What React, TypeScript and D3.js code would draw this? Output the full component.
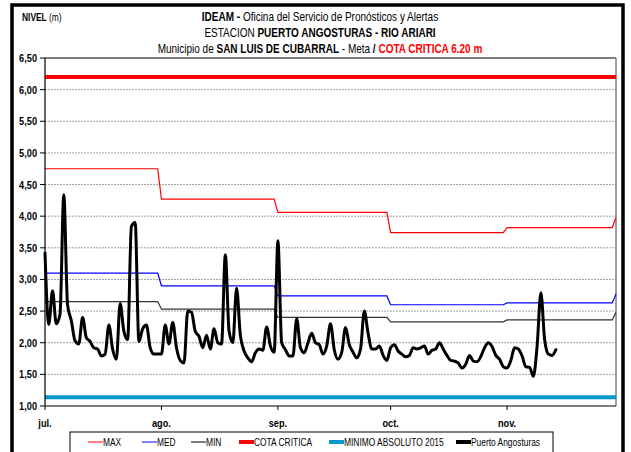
import React from "react";
import * as d3 from "d3";

// ---------- data ----------
const monthLabels = ["jul.", "ago.", "sep.", "oct.", "nov."];
const startDate = "2016-07-01";
const endDate = "2016-11-30";

// monthly reference levels (jul, ago, sep, oct, nov, dic)
const maxValues = [4.75, 4.27, 4.06, 3.74, 3.82, 3.98];
const medValues = [3.1, 2.9, 2.74, 2.6, 2.63, 2.77];
const minValues = [2.65, 2.53, 2.4, 2.33, 2.36, 2.48];
const cotaCritica = 6.2;
const minimoAbsoluto = 1.14;

const yTicks = [1.0, 1.5, 2.0, 2.5, 3.0, 3.5, 4.0, 4.5, 5.0, 5.5, 6.0, 6.5];

// daily level, Puerto Angosturas, from 1 jul.
const angosturas = [
  3.42, 2.29, 2.82, 2.3, 2.45, 4.34, 2.6, 2.35, 2.03, 1.98,
  2.4, 2.08, 2.02, 1.92, 1.9, 1.79, 1.82, 2.28, 1.9, 1.74,
  2.62, 2.18, 2.05, 3.84, 3.9, 2.02, 2.22, 2.28, 1.92, 1.82,
  1.82, 1.82, 2.28, 1.98, 2.32, 1.92, 1.72, 1.68, 2.5, 2.48,
  2.18, 2.1, 1.92, 2.12, 1.9, 2.22, 2.0, 1.98, 3.39, 2.18,
  2.0, 2.86, 2.12, 1.87, 1.76, 1.7, 1.84, 1.9, 1.88, 2.25,
  1.95, 1.85, 3.61, 2.0, 1.89, 1.79, 1.79, 2.38, 1.92, 1.84,
  2.0, 2.15, 2.0, 1.97, 1.82, 1.95, 2.3, 1.89, 1.74, 1.85,
  2.24, 1.97, 1.85, 1.76, 1.9, 2.5, 2.15, 1.9, 1.9, 1.95,
  1.8, 1.72, 1.92, 1.97, 1.87, 1.82, 1.78, 1.8, 1.92, 1.9,
  1.92, 1.95, 1.82, 1.88, 1.9, 2.0, 1.9, 1.8, 1.72, 1.71,
  1.68, 1.6, 1.66, 1.8, 1.71, 1.7, 1.78, 1.92, 2.0, 1.94,
  1.8, 1.74, 1.62, 1.6, 1.72, 1.92, 1.9, 1.79, 1.62, 1.61,
  1.47, 1.95, 2.79, 2.05, 1.82, 1.8, 1.89,
];

// ---------- layout ----------
const W = 631;
const H = 452;
const PL = 45, PR = 616, PT = 58, PB = 406;
const FONT = "'Liberation Sans', Arial, sans-serif";
const SX = 0.8; // horizontal condensing to mimic Arial Narrow

const parse = d3.timeParse("%Y-%m-%d");
const d0 = parse(startDate) as Date;
const d1 = parse(endDate) as Date;

const x = d3.scaleTime().domain([d0, d1]).range([PL, PR]);
const y = d3.scaleLinear().domain([1, 6.5]).range([PB, PT]);

const monthTicks = d3.timeMonth.range(d0, d1).slice(0, monthLabels.length);

function stepSeries(vals: number[]) {
  const days = d3.timeDay.range(d0, d1);
  const pts = days.map((d) => {
    const m = (d.getFullYear() - d0.getFullYear()) * 12 + d.getMonth() - d0.getMonth();
    return { date: d, v: vals[m] };
  });
  pts.push({ date: d1, v: vals[vals.length - 1] });
  return pts;
}

const lineFn = d3
  .line<{ date: Date; v: number }>()
  .x((p) => x(p.date))
  .y((p) => y(p.v));

const dailyPts = angosturas.map((v, i) => ({ date: d3.timeDay.offset(d0, i), v }));
const smoothLine = d3
  .line<{ date: Date; v: number }>()
  .x((p) => x(p.date))
  .y((p) => y(p.v))
  .curve(d3.curveMonotoneX);

const fmt = (v: number) => d3.format(".2f")(v).replace(".", ",");

const legendItems = [
  { label: "MAX", color: "#ff0000", w: 1, x: 88 },
  { label: "MED", color: "#0000ff", w: 1, x: 142 },
  { label: "MIN", color: "#000000", w: 1, x: 191 },
  { label: "COTA CRITICA", color: "#ff0000", w: 4, x: 239 },
  { label: "MINIMO ABSOLUTO 2015", color: "#0099cc", w: 4, x: 329 },
  { label: "Puerto Angosturas", color: "#000000", w: 4, x: 456 },
];

function NText(props: {
  x: number;
  y: number;
  size: number;
  anchor?: "start" | "middle" | "end";
  bold?: boolean;
  fill?: string;
  children: React.ReactNode;
}) {
  return (
    <text
      transform={`translate(${props.x},${props.y}) scale(${SX},1)`}
      fontSize={props.size}
      textAnchor={props.anchor || "start"}
      fontWeight={props.bold ? "bold" : "normal"}
      fill={props.fill || "#000"}
    >
      {props.children}
    </text>
  );
}

export default function App() {
  return (
    <svg
      width={W}
      height={H}
      viewBox={`0 0 ${W} ${H}`}
      style={{ position: "absolute", left: 0, top: 0, background: "#fff" }}
      fontFamily={FONT}
    >
      <rect x={0} y={0} width={W} height={H} fill="#fff" />
      {/* outer frame */}
      <path d={`M12,${H + 5} V5 H623 V${H + 5}`} fill="none" stroke="#000" strokeWidth={3.5} />

      {/* titles */}
      <NText x={22} y={21} size={10.5}>
        <tspan fontWeight="bold">NIVEL</tspan>
        <tspan> (m)</tspan>
      </NText>
      <NText x={320} y={21} size={12.5} anchor="middle">
        <tspan fontWeight="bold">IDEAM - </tspan>
        <tspan>Oficina del Servicio de Pronósticos y Alertas</tspan>
      </NText>
      <NText x={320} y={37} size={12.5} anchor="middle">
        <tspan>ESTACION </tspan>
        <tspan fontWeight="bold">PUERTO ANGOSTURAS - RIO ARIARI</tspan>
      </NText>
      <NText x={320} y={53} size={12.5} anchor="middle">
        <tspan>Municipio de </tspan>
        <tspan fontWeight="bold">SAN LUIS DE CUBARRAL</tspan>
        <tspan> - Meta </tspan>
        <tspan fontWeight="bold"> / </tspan>
        <tspan fontWeight="bold" fill="#ff0000"> COTA CRITICA 6.20 m</tspan>
      </NText>

      {/* grid */}
      {yTicks
        .filter((t) => t > 1 && t < 6.5)
        .map((t) => (
          <line
            key={t}
            x1={PL}
            x2={PR}
            y1={y(t)}
            y2={y(t)}
            stroke="#a0a0a0"
            strokeWidth={1}
            strokeDasharray="2,1"
          />
        ))}

      {/* plot frame */}
      <line x1={PL} x2={PR} y1={PT} y2={PT} stroke="#000" strokeWidth={1} />
      <line x1={PR} x2={PR} y1={PT} y2={PB} stroke="#808080" strokeWidth={1.5} />

      {/* reference lines */}
      <line x1={PL} x2={PR} y1={y(cotaCritica)} y2={y(cotaCritica)} stroke="#ff0000" strokeWidth={4} />
      <line x1={PL} x2={PR} y1={y(minimoAbsoluto)} y2={y(minimoAbsoluto)} stroke="#0099cc" strokeWidth={4} />
      <path d={lineFn(stepSeries(maxValues)) || ""} fill="none" stroke="#ff0000" strokeWidth={1.2} />
      <path d={lineFn(stepSeries(medValues)) || ""} fill="none" stroke="#0000ff" strokeWidth={1.2} />
      <path d={lineFn(stepSeries(minValues)) || ""} fill="none" stroke="#333333" strokeWidth={1.2} />

      {/* observed series */}
      <path
        d={smoothLine(dailyPts) || ""}
        fill="none"
        stroke="#000"
        strokeWidth={3}
        strokeLinejoin="round"
        strokeLinecap="round"
      />

      {/* y axis */}
      <line x1={PL} x2={PL} y1={PT} y2={PB} stroke="#000" strokeWidth={1.2} />
      {yTicks.map((t) => (
        <g key={t}>
          <line x1={PL - 5} x2={PL} y1={y(t)} y2={y(t)} stroke="#000" strokeWidth={1} />
          <NText x={PL - 8} y={y(t) + 4} size={11.5} bold anchor="end">
            {fmt(t)}
          </NText>
        </g>
      ))}

      {/* x axis */}
      <line x1={PL} x2={PR} y1={PB} y2={PB} stroke="#000" strokeWidth={1.2} />
      {monthTicks.map((d, i) => (
        <g key={i}>
          <line x1={x(d)} x2={x(d)} y1={PB} y2={PB + 4} stroke="#000" strokeWidth={1} />
          <NText x={x(d)} y={PB + 21} size={11.5} bold anchor="middle">
            {monthLabels[i]}
          </NText>
        </g>
      ))}

      {/* legend */}
      <rect x={70} y={432} width={483} height={24} fill="#fff" stroke="#000" strokeWidth={1} />
      {legendItems.map((it) => (
        <g key={it.label}>
          <line x1={it.x} x2={it.x + 15} y1={442} y2={442} stroke={it.color} strokeWidth={it.w} />
          <NText x={it.x + 15} y={446} size={10.5}>
            {it.label}
          </NText>
        </g>
      ))}
    </svg>
  );
}
